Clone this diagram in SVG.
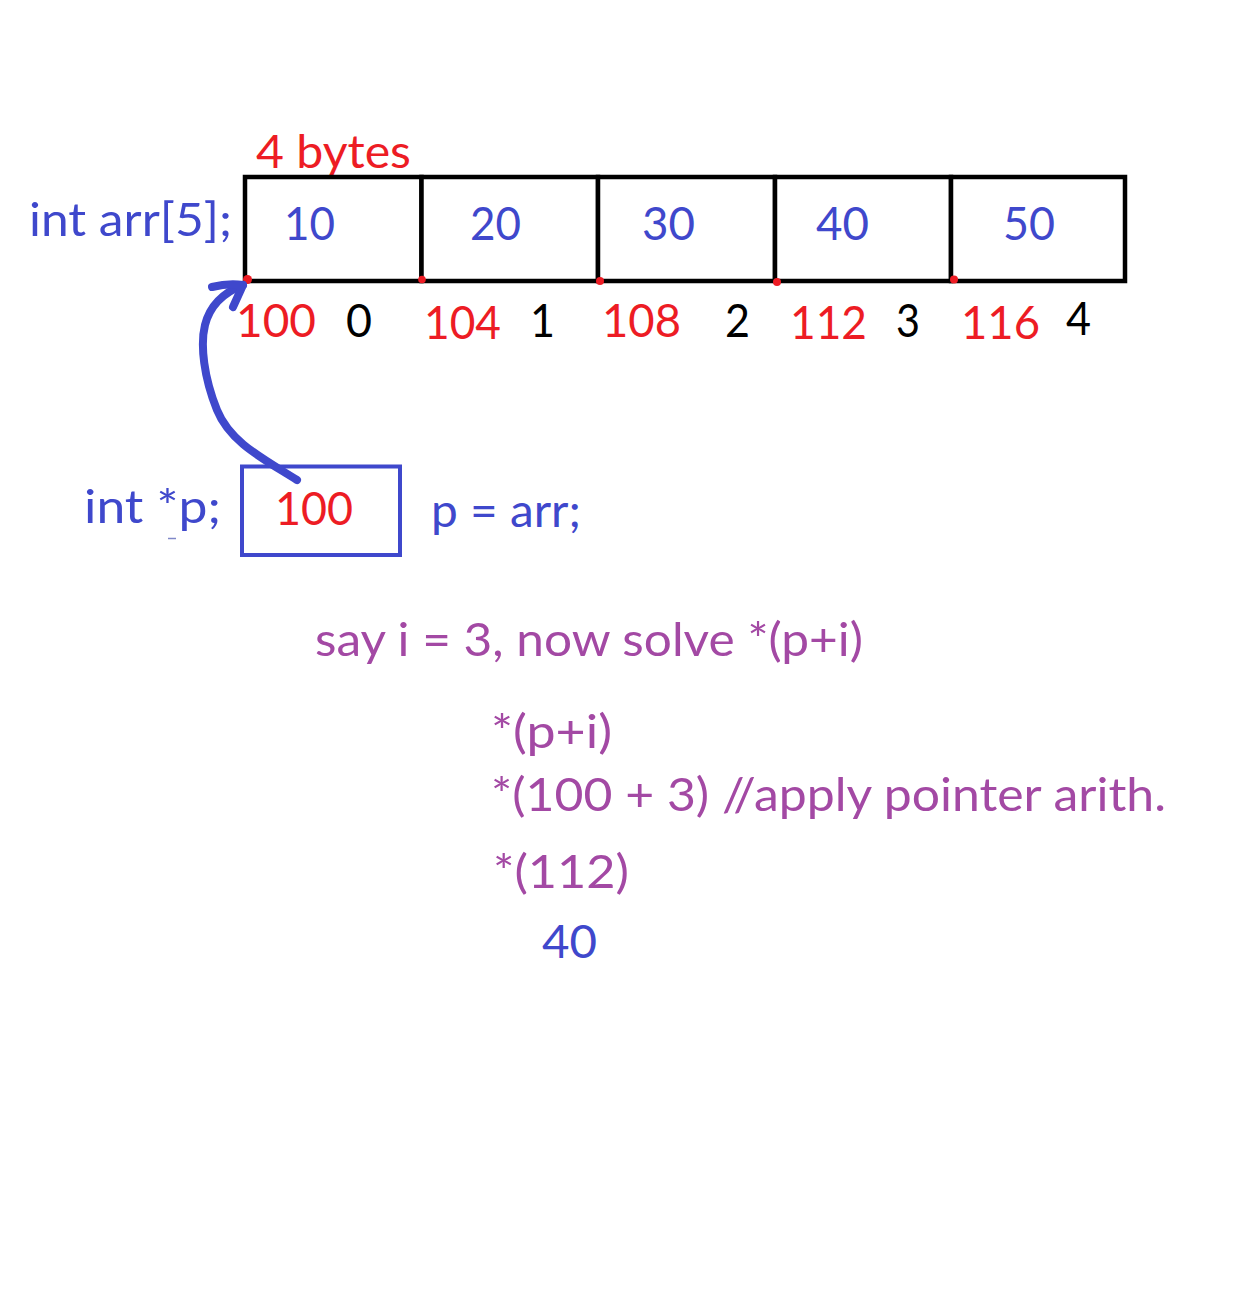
<svg xmlns="http://www.w3.org/2000/svg" width="1243" height="1291" viewBox="0 0 1243 1291">
<style>
  text { font-family: Lato, "Open Sans", "Liberation Sans", sans-serif; font-size: 47px; }
  .blue { fill: #3F48CC; }
  .red { fill: #ED1C24; }
  .blk { fill: #000000; }
  .pur { fill: #A349A4; }
  .cell { fill: #FFFFFF; stroke: #000000; stroke-width: 4.5; }
  .dot { fill: #ED1C24; }
  .ptr { fill: #FFFFFF; stroke: #3F48CC; stroke-width: 4; }
  .conn { fill: none; stroke: #3F48CC; stroke-width: 8; stroke-linecap: round; stroke-linejoin: round; }
</style>
<rect x="0" y="0" width="1243" height="1291" fill="#FFFFFF"/>

<g id="label-4bytes"><text class="red" x="256" y="168" textLength="155" lengthAdjust="spacingAndGlyphs">4 bytes</text></g>
<g id="label-arr"><text class="blue" x="29" y="236" textLength="203" lengthAdjust="spacingAndGlyphs">int arr[5];</text></g>

<g id="array">
  <g id="cell0">
    <rect class="cell" x="245" y="177" width="176.5" height="104"/>
    <text class="blue" x="284" y="240" textLength="51" lengthAdjust="spacingAndGlyphs">10</text>
  </g>
  <g id="cell1">
    <rect class="cell" x="421.5" y="177" width="176.5" height="104"/>
    <text class="blue" x="470" y="240" textLength="51" lengthAdjust="spacingAndGlyphs">20</text>
  </g>
  <g id="cell2">
    <rect class="cell" x="598" y="177" width="177" height="104"/>
    <text class="blue" x="642" y="240" textLength="53" lengthAdjust="spacingAndGlyphs">30</text>
  </g>
  <g id="cell3">
    <rect class="cell" x="775" y="177" width="176" height="104"/>
    <text class="blue" x="816" y="240" textLength="53" lengthAdjust="spacingAndGlyphs">40</text>
  </g>
  <g id="cell4">
    <rect class="cell" x="951" y="177" width="174" height="104"/>
    <text class="blue" x="1003" y="240" textLength="52" lengthAdjust="spacingAndGlyphs">50</text>
  </g>
  <g id="dots">
    <circle class="dot" cx="247.5" cy="279.5" r="4.5"/>
    <circle class="dot" cx="422" cy="279.5" r="3.8"/>
    <circle class="dot" cx="600" cy="281" r="4"/>
    <circle class="dot" cx="777" cy="282" r="4"/>
    <circle class="dot" cx="954" cy="279.5" r="4"/>
  </g>
</g>

<g id="addresses">
  <text class="red" x="236" y="337" textLength="80" lengthAdjust="spacingAndGlyphs">100</text>
  <text class="blk" x="346" y="337" textLength="26" lengthAdjust="spacingAndGlyphs">0</text>
  <text class="red" x="424" y="339" textLength="77" lengthAdjust="spacingAndGlyphs">104</text>
  <text class="blk" x="530" y="337" textLength="25" lengthAdjust="spacingAndGlyphs">1</text>
  <text class="red" x="602" y="337" textLength="79" lengthAdjust="spacingAndGlyphs">108</text>
  <text class="blk" x="725" y="337" textLength="25" lengthAdjust="spacingAndGlyphs">2</text>
  <text class="red" x="790" y="339" textLength="77" lengthAdjust="spacingAndGlyphs">112</text>
  <text class="blk" x="896" y="337" textLength="24" lengthAdjust="spacingAndGlyphs">3</text>
  <text class="red" x="961" y="339" textLength="79" lengthAdjust="spacingAndGlyphs">116</text>
  <text class="blk" x="1066" y="335" textLength="25" lengthAdjust="spacingAndGlyphs">4</text>
</g>

<g id="pointer">
  <text class="blue" x="84" y="523" textLength="137" lengthAdjust="spacingAndGlyphs">int *p;</text>
  <line x1="168" y1="538.5" x2="176" y2="538.5" stroke="#8088C8" stroke-width="1.5"/>
  <rect class="ptr" x="242" y="466.5" width="158" height="88.5"/>
  <text class="red" x="275" y="525" textLength="78" lengthAdjust="spacingAndGlyphs">100</text>
</g>

<g id="assign"><text class="blue" x="431" y="527" textLength="150" lengthAdjust="spacingAndGlyphs">p = arr;</text></g>

<g id="connectors">
  <path class="conn" d="M297,480 C262,458 230,442 217,410 C204,378 200,345 205,325 C210,305 225,292 243,285"/>
  <path class="conn" d="M212,287 Q228,283 243,285 L233,307"/>
</g>

<g id="solution">
  <text class="pur" x="315" y="656" textLength="548" lengthAdjust="spacingAndGlyphs">say i = 3, now solve *(p+i)</text>
  <text class="pur" x="491" y="748" textLength="121" lengthAdjust="spacingAndGlyphs">*(p+i)</text>
  <text class="pur" x="491" y="811" textLength="675" lengthAdjust="spacingAndGlyphs">*(100 + 3) //apply pointer arith.</text>
  <text class="pur" x="493" y="888" textLength="136" lengthAdjust="spacingAndGlyphs">*(112)</text>
  <text class="blue" x="542" y="958" textLength="55" lengthAdjust="spacingAndGlyphs">40</text>
</g>
</svg>
